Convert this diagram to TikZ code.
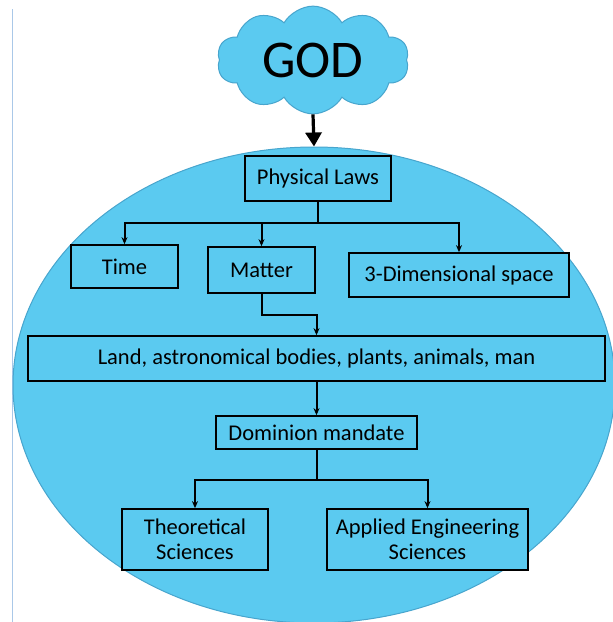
\documentclass[tikz,border=0pt]{standalone}
\usepackage{fontspec}
\setmainfont{Carlito}
\usepackage{xcolor}
\usetikzlibrary{positioning, shapes.geometric, shapes.symbols, arrows.meta}

\definecolor{skyfill}{RGB}{91,202,240}
\definecolor{skyedge}{RGB}{72,165,205}
\definecolor{pageline}{RGB}{170,200,232}

\begin{document}
\begin{tikzpicture}[
    x=1pt, y=-1pt,
    font=\fontsize{22.5}{25}\selectfont,
    garrow/.style={-{Triangle[length=14pt, width=16pt]}, line width=3.2pt},
    harrow/.style={-{Stealth[length=7pt, width=6pt]}, line width=2pt},
    box/.style={
        rectangle,
        minimum height=#1,
        text centered,
        draw=black,
        line width=1.7pt,
        fill=skyfill,
        inner sep=0pt
    },
    box/.default=45pt
]

\useasboundingbox (0,0) rectangle (613,622);

% === PAGE EDGE ===
\draw [pageline, line width=0.8pt] (12,9) -- (12,622);

% === GOD AND THE WORLD ===
\node (world) [ellipse, minimum width=602pt, minimum height=476pt, fill=skyfill, draw=skyedge, line width=1pt] at (314,385) {};
\node (god) [cloud, cloud puffs=10, cloud puff arc=120, aspect=1.8, minimum width=192pt, minimum height=106pt,
    fill=skyfill, draw=skyedge, line width=1pt, font=\fontsize{53}{58}\selectfont] at (313,60) {GOD};

\draw [garrow] (god.south) -- (world.north);

% === LAWS AND WHAT THEY GOVERN ===
\node (laws) [box, minimum width=146pt] at (318,178.5) {Physical Laws};
\node (time) [box=43pt, minimum width=107pt] at (124.5,266.5) {Time};
\node (matter) [box=46pt, minimum width=107pt] at (261.5,270) {Matter};
\node (space) [box=44pt, minimum width=220pt] at (459,275) {3-Dimensional space};

\draw [harrow] (laws.south) -- ++(0,21) -| (time.north);
\draw [harrow] (laws.south) -- ++(0,21) -| (matter.north);
\draw [harrow] (laws.south) -- ++(0,21) -| (space.north);

% === CREATION ===
\node (land) [box, minimum width=577pt] at (316.5,358.5) {Land, astronomical bodies, plants, animals, man};
\node (dominion) [box=33pt, minimum width=201pt] at (316.5,432.5) {Dominion mandate};

\draw [harrow] (matter.south) -- ++(0,21) -| (land.north);
\draw [harrow] (land.south) -- (dominion.north);

% === SCIENCES ===
\node (theory) [box=61pt, minimum width=146pt, align=center] at (195,539.5) {Theoretical\\Sciences};
\node (applied) [box=61pt, minimum width=201pt, align=center] at (427.5,539.5) {Applied Engineering\\Sciences};

\draw [harrow] (dominion.south) -- ++(0,30) -| (theory.north);
\draw [harrow] (dominion.south) -- ++(0,30) -| (applied.north);

\end{tikzpicture}
\end{document}
